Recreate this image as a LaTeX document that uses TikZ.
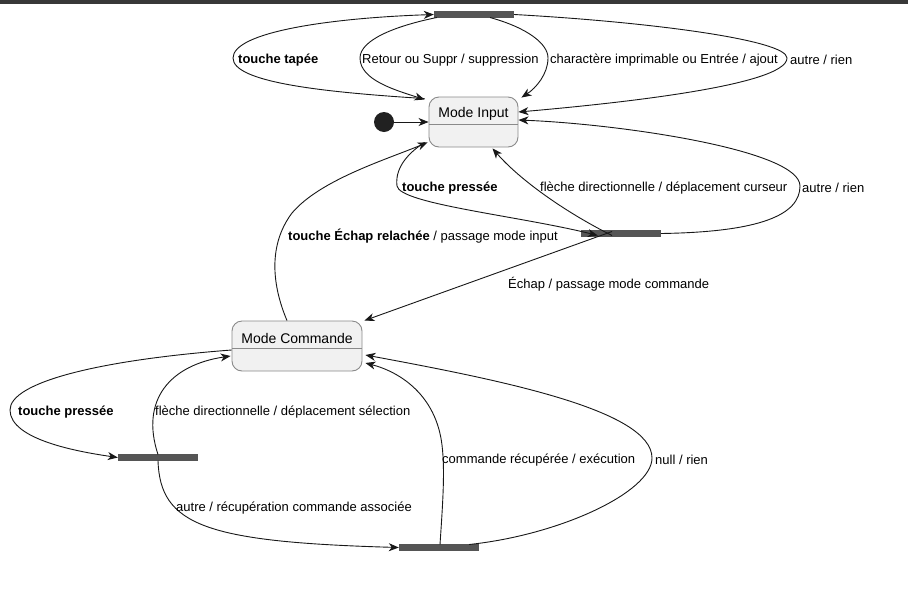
\documentclass[tikz,border=0pt]{standalone}
\usepackage{fontspec}
\setmainfont{Liberation Sans}
\usetikzlibrary{arrows.meta}
\definecolor{linec}{HTML}{181818}
\definecolor{barc}{HTML}{555555}
\definecolor{boxfill}{HTML}{F1F1F1}
\definecolor{boxline}{HTML}{8A8A8A}
\tikzset{
  statebox/.style={draw=boxline, fill=boxfill, rounded corners=10pt, line width=0.9pt, inner sep=0pt},
  forkbar/.style={fill=barc, draw=none, minimum width=80pt, minimum height=7pt, inner sep=0pt},
  lbl/.style={anchor=west, inner sep=0pt, yshift=-2pt, font=\fontsize{13}{15}\selectfont},
  ttl/.style={inner sep=0pt, yshift=-2pt, font=\fontsize{14}{16}\selectfont},
  tr/.style={draw=linec, line width=0.9pt, -{Stealth[length=10pt,width=8pt,inset=3pt]}},
}
\begin{document}
\begin{tikzpicture}[x=1pt,y=-1pt]
\useasboundingbox (0,0) rectangle (908,590);
\fill[fill=white] (0,0) rectangle (908,590);
\fill[fill=black!78] (0,0) rectangle (908,3.5);

% states
\node[statebox, minimum width=89pt, minimum height=50pt] (mi) at (473.5,122) {};
\draw[boxline, line width=0.9pt] ([yshift=-2pt]mi.west) -- ([yshift=-2pt]mi.east);
\node[ttl] (mit) at (473.5,112) {Mode Input};

\node[statebox, minimum width=130pt, minimum height=50pt] (mc) at (297,346) {};
\draw[boxline, line width=0.9pt] ([yshift=-2pt]mc.west) -- ([yshift=-2pt]mc.east);
\node[ttl] (mct) at (297,336) {Mode Commande};

% initial
\node[circle, fill=black!87, minimum size=20pt, inner sep=0pt] (init) at (384,122) {};

% bars
\node[forkbar] (b1) at (474,14.5) {};
\node[forkbar] (b2) at (621,233.5) {};
\node[forkbar] (b3) at (158,457.5) {};
\node[forkbar] (b4) at (439,547.5) {};

% initial -> Mode Input
\draw[tr] (init.east) -- (mi.west);

% Mode Input -> b1 : touche tapée
\draw[tr] ([xshift=-4pt,yshift=-2pt]mi.north west) .. controls (320,92) and (233,82) .. (233,58)
   .. controls (233,32) and (330,18) .. (b1.west);
\node[lbl] (l1) at (238,58) {\textbf{touche tapée}};

% b1 -> Mode Input : Retour
\draw[tr] ([xshift=3pt,yshift=-3pt]b1.west) .. controls (395,26) and (360,40) .. (360,58)
   .. controls (360,80) and (395,90) .. ([xshift=-4pt,yshift=-3pt]mi.north west);
\node[lbl] (l2) at (362,58) {Retour ou Suppr / suppression};

% b1 -> Mode Input : charactère
\draw[tr] ([xshift=16pt,yshift=-3pt]b1.center) .. controls (528,28) and (548,44) .. (548,58)
   .. controls (548,74) and (536,88) .. ([xshift=3pt,yshift=-1pt]mi.north east);
\node[lbl] (l3) at (550,58) {charactère imprimable ou Entrée / ajout};

% b1 -> Mode Input : autre / rien
\draw[tr] (b1.east) .. controls (650,22) and (787,40) .. (787,58)
   .. controls (787,86) and (610,104) .. ([yshift=10pt]mi.east);
\node[lbl] (l4) at (790,58) {autre / rien};

% Mode Input -> b2 : touche pressée
\draw[tr] ([xshift=-4pt,yshift=5pt]mi.south west) .. controls (405,155) and (395,170) .. (397,186)
   .. controls (400,204) and (520,216) .. ([xshift=17pt,yshift=-2pt]b2.west);
\node[lbl] (l5) at (402,186) {\textbf{touche pressée}};

% b2 -> Mode Input : flèche directionnelle
\draw[tr] ([xshift=-9pt,yshift=-2pt]b2.center) .. controls (565,212) and (520,180) .. ([xshift=19pt,yshift=-1pt]mi.south);
\node[lbl] (l6) at (540,186) {flèche directionnelle / déplacement curseur};

% b2 -> Mode Input : autre / rien
\draw[tr] (b2.east) .. controls (760,232) and (800,215) .. (800,186)
   .. controls (800,150) and (620,124) .. ([yshift=2pt]mi.east);
\node[lbl] (l7) at (802,186) {autre / rien};

% b2 -> Mode Commande : Échap
\draw[tr] ([xshift=-9pt,yshift=2pt]b2.center) -- ([xshift=2pt]mc.north east);
\node[lbl] (l8) at (508,282) {Échap / passage mode commande};

% Mode Commande -> Mode Input : touche Échap relachée
\draw[tr] ([xshift=-10pt]mc.north) .. controls (272,285) and (268,245) .. (292,213)
   .. controls (320,180) and (385,160) .. ([xshift=-1pt,yshift=5pt]mi.south west);
\node[lbl] (l9) at (288,234) {\textbf{touche Échap relachée} / passage mode input};

% Mode Commande -> b3 : touche pressée
\draw[tr] ([yshift=-4pt]mc.west) .. controls (100,360) and (10,382) .. (10,410)
   .. controls (10,440) and (80,452) .. (b3.west);
\node[lbl] (l10) at (18,410) {\textbf{touche pressée}};

% b3 -> Mode Commande : flèche directionnelle
\draw[tr] ([yshift=3pt]b3.center) .. controls (140,400) and (170,365) .. ([xshift=-1pt,yshift=-10pt]mc.west);
\node[lbl] (l11) at (155,410) {flèche directionnelle / déplacement sélection};

% b3 -> b4 : autre
\draw[tr] ([yshift=-3pt]b3.center) .. controls (160,525) and (205,542) .. (b4.west);
\node[lbl] (l12) at (176,506) {autre / récupération commande associée};

% b4 -> Mode Commande : commande récupérée
\draw[tr] ([xshift=1pt,yshift=3pt]b4.center) .. controls (443,500) and (445,470) .. (442,445)
   .. controls (436,395) and (400,372) .. ([xshift=3pt,yshift=-17pt]mc.east);
\node[lbl] (l13) at (442,458) {commande récupérée / exécution};

% b4 -> Mode Commande : null / rien
\draw[tr] ([xshift=30pt,yshift=3pt]b4.center) .. controls (560,535) and (652,492) .. (652,458)
   .. controls (652,410) and (500,380) .. ([xshift=3pt,yshift=-9pt]mc.east);
\node[lbl] (l14) at (655,458) {null / rien};
\end{tikzpicture}
\end{document}
